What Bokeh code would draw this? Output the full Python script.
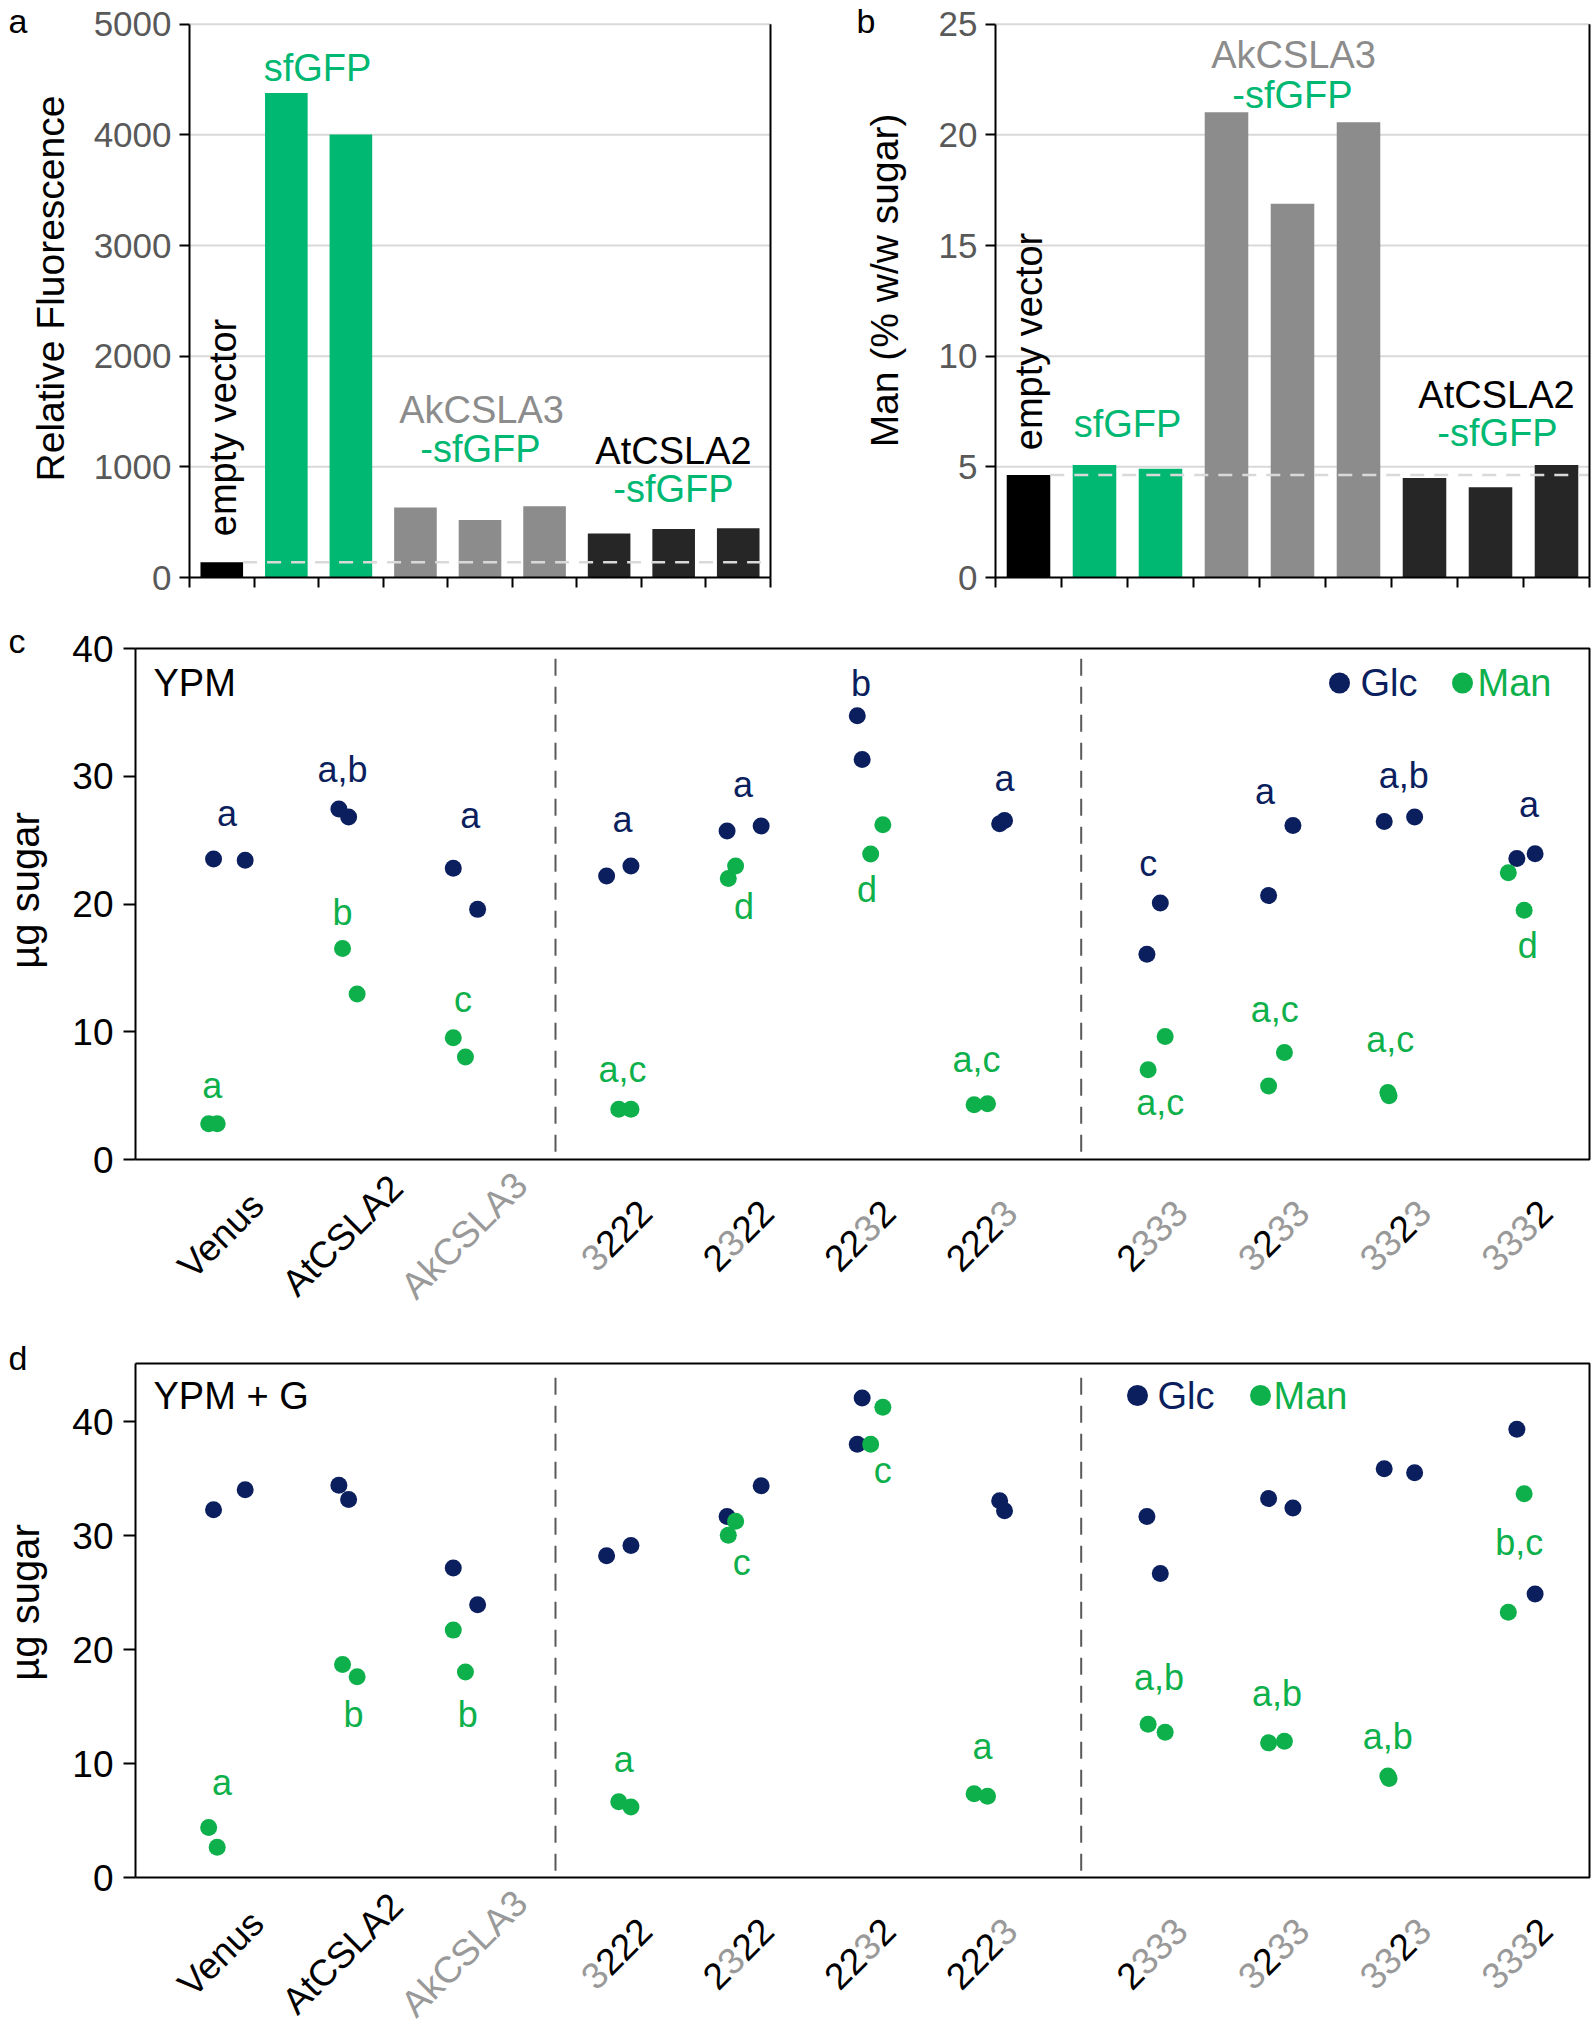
import math
from bokeh.plotting import figure
from bokeh.layouts import column, row
from bokeh.models import FixedTicker, Range1d
from bokeh.core.properties import value
from bokeh.embed import file_html
from bokeh.resources import INLINE

FONT = "Liberation Sans"
GREEN_BAR = "#00B872"
GREEN_DOT = "#0DB04B"
NAVY = "#0B1F5E"
GREY_BAR = "#8C8C8C"
LABEL_GREY = "#999999"
DARK_BAR = "#262626"
TICK_GREY = "#595959"
MID = 0.358  # cap-centre above baseline, in em

# ---------------- data: panels a / b ----------------
constructs = ["empty vector", "sfGFP", "sfGFP",
              "AkCSLA3-sfGFP", "AkCSLA3-sfGFP", "AkCSLA3-sfGFP",
              "AtCSLA2-sfGFP", "AtCSLA2-sfGFP", "AtCSLA2-sfGFP"]
fluorescence = [138, 4378, 4004, 633, 519, 643, 398, 439, 446]
man_percent = [4.63, 5.08, 4.91, 21.02, 16.89, 20.57, 4.50, 4.08, 5.08]
fluor_ticks = [0, 1000, 2000, 3000, 4000, 5000]
man_pct_ticks = [0, 5, 10, 15, 20, 25]

# ---------------- data: panels c / d ----------------
categories = ["Venus", "AtCSLA2", "AkCSLA3", "3222", "2322", "2232", "2223",
              "2333", "3233", "3323", "3332"]
cat_group = [0, 0, 0, 1, 1, 1, 1, 2, 2, 2, 2]
group_shift = [0.0, 0.25, 0.65]
separators = [3.72, 8.04]
sugar_ticks = [0, 10, 20, 30, 40]

glc_jit_1 = [-0.09, -0.06, -0.12, -0.11, -0.12, -0.05, 0.12, -0.07, -0.07, -0.12, -0.03]
glc_jit_2 = [0.17, 0.02, 0.08, 0.09, 0.16, -0.01, 0.16, 0.04, 0.13, 0.13, 0.12]
man_jit_1 = [-0.13, -0.03, -0.12, -0.01, -0.11, 0.16, -0.09, 0.08, -0.07, -0.09, -0.10]
man_jit_2 = [-0.06, 0.09, -0.02, 0.09, -0.05, 0.06, 0.02, -0.06, 0.06, -0.08, 0.03]

# panel c (YPM)
glc_c_1 = [23.53, 27.43, 22.79, 22.20, 25.72, 34.73, 26.28, 16.06, 20.66, 26.46, 23.56]
glc_c_2 = [23.42, 26.81, 19.58, 22.97, 26.11, 31.31, 26.53, 20.07, 26.14, 26.81, 23.94]
man_c_1 = [2.79, 16.51, 9.53, 3.94, 21.99, 26.21, 4.29, 9.63, 5.76, 5.24, 22.44]
man_c_2 = [2.79, 12.95, 8.03, 3.94, 22.97, 23.91, 4.36, 7.02, 8.38, 4.99, 19.51]
glc_c_letters = ["a", "a,b", "a", "a", "a", "b", "a", "c", "a", "a,b", "a"]
glc_c_letter_y = [26.1, 29.53, 25.93, 25.58, 28.38, 36.23, 28.8, 22.2, 27.78, 29.07, 26.81]
glc_c_letter_dx = [0.02, -0.03, 0.02, 0.02, 0.01, -0.02, 0.16, -0.06, -0.10, 0.04, 0.07]
man_c_letters = ["a", "b", "c", "a,c", "d", "d", "a,c", "a,c", "a,c", "a,c", "d"]
man_c_letter_y = [4.82, 18.36, 11.52, 6.04, 18.78, 20.1, 6.84, 3.49, 10.75, 8.38, 15.71]
man_c_letter_dx = [-0.10, -0.03, -0.04, 0.02, 0.02, 0.03, -0.07, 0.04, -0.02, -0.07, 0.06]

# panel d (YPM + G)
glc_d_1 = [32.26, 34.41, 27.14, 28.23, 31.67, 38.01, 33.04, 31.67, 33.24, 35.86, 39.33]
glc_d_2 = [34.02, 33.16, 23.93, 29.13, 34.37, 42.07, 32.18, 26.67, 32.41, 35.50, 24.87]
man_d_1 = [4.38, 18.69, 21.70, 6.65, 30.03, 41.25, 7.35, 12.75, 11.81, 8.91, 23.27]
man_d_2 = [2.66, 17.60, 18.03, 6.18, 31.24, 38.01, 7.12, 13.45, 11.96, 8.68, 33.67]
man_d_letters = ["a", "b", "b", "a", "c", "c", "a", "a,b", "a,b", "a,b", "b,c"]
man_d_letter_y = [7.16, 13.2, 13.2, 9.19, 26.5, 34.6, 10.4, 16.42, 14.98, 11.26, 28.27]
man_d_letter_dx = [-0.02, 0.06, 0.0, 0.03, 0.0, 0.16, -0.02, 0.03, 0.0, -0.09, -0.01]

# ---------------- helpers ----------------
CHAR_W = {"0": .556, "1": .556, "2": .556, "3": .556, "V": .667, "e": .556,
          "n": .556, "u": .556, "s": .5, "A": .667, "t": .278, "C": .722,
          "S": .667, "L": .556, "k": .5}


class Geo:
    """Maps canvas pixels to data units; the frame fills the whole canvas."""

    def __init__(self, W, H, L, R, T, B, x0, x1, y0, y1):
        self.W, self.H = W, H
        self.sx = (R - L) / (x1 - x0)
        self.sy = (B - T) / (y1 - y0)
        self.xs = x0 - L / self.sx
        self.xe = x1 + (W - R) / self.sx
        self.ye = y1 + T / self.sy
        self.ys = y0 - (H - B) / self.sy

    def fx(self, px):
        return self.xs + px / self.sx

    def fy(self, py):
        return self.ye - py / self.sy


def make_fig(g):
    p = figure(width=g.W, height=g.H, x_range=Range1d(g.xs, g.xe),
               y_range=Range1d(g.ys, g.ye), output_backend="svg",
               toolbar_location=None, min_border_left=0, min_border_right=0,
               min_border_top=0, min_border_bottom=0)
    p.outline_line_color = None
    p.xgrid.visible = False
    p.ygrid.visible = False
    return p


def txt(p, x, y, text, color="black", size=38, align="center", angle=0.0):
    p.text(x=[x], y=[y], text=[text], text_color=color, text_font=value(FONT),
           text_font_size=value(f"{size}px"), text_align=align,
           text_baseline="middle", angle=angle)


def style_yaxis(ax, tick_out, standoff, color, size, ticks, bounds, loc):
    ax.fixed_location = loc
    ax.bounds = bounds
    ax.ticker = FixedTicker(ticks=ticks)
    ax.axis_line_width = 2
    ax.axis_line_color = "black"
    ax.major_tick_line_width = 2
    ax.major_tick_line_color = "black"
    ax.major_tick_in = 0
    ax.major_tick_out = tick_out
    ax.minor_tick_line_color = None
    ax.major_label_text_font = FONT
    ax.major_label_text_font_size = f"{size}px"
    ax.major_label_text_color = color
    ax.major_label_standoff = standoff


construct_color = {"empty vector": "#000000", "sfGFP": GREEN_BAR,
                   "AkCSLA3-sfGFP": GREY_BAR, "AtCSLA2-sfGFP": DARK_BAR}


def bar_panel(g, values, ticks):
    p = make_fig(g)
    n = len(values)
    ymax = ticks[-1]
    p.segment(x0=[0.5] * (len(ticks) - 1), x1=[n + 0.5] * (len(ticks) - 1),
              y0=ticks[1:], y1=ticks[1:], line_color="#d9d9d9", line_width=2)
    xs = list(range(1, n + 1))
    p.vbar(x=xs, top=values, width=0.66, line_color=None,
           fill_color=[construct_color[c] for c in constructs])
    p.line(x=[1.33, n + 0.5], y=[values[0], values[0]], line_color="#d9d9d9",
           line_width=2.5, line_dash="14 10")
    p.line(x=[n + 0.5, n + 0.5], y=[0, ymax], line_color="black", line_width=2)
    style_yaxis(p.yaxis[0], 10, 8, TICK_GREY, 35, ticks, (0, ymax), 0.5)
    xa = p.xaxis[0]
    xa.fixed_location = 0
    xa.bounds = (0.5, n + 0.5)
    xa.ticker = FixedTicker(ticks=[], minor_ticks=[i + 0.5 for i in range(n + 1)])
    xa.axis_line_width = 2
    xa.axis_line_color = "black"
    xa.major_tick_line_color = None
    xa.minor_tick_line_color = "black"
    xa.minor_tick_line_width = 2
    xa.minor_tick_in = 0
    xa.minor_tick_out = 10
    return p


# ---- panel a ----
ga = Geo(850, 600, 189, 770, 23.7, 577, 0.5, 9.5, 0, 5000)
pa = bar_panel(ga, fluorescence, fluor_ticks)
txt(pa, ga.fx(8), ga.fy(20), "a", size=34, align="left")
txt(pa, ga.fx(64 - MID * 39), ga.fy(288), "Relative Fluorescence", size=39,
    angle=math.pi / 2)
txt(pa, ga.fx(317), ga.fy(67), "sfGFP", GREEN_BAR)
txt(pa, ga.fx(222), ga.fy(427), "empty vector", angle=math.pi / 2)
txt(pa, ga.fx(481), ga.fy(409), "AkCSLA3", GREY_BAR)
txt(pa, ga.fx(480), ga.fy(448), "-sfGFP", GREEN_BAR)
txt(pa, ga.fx(673), ga.fy(450), "AtCSLA2", "black")
txt(pa, ga.fx(673), ga.fy(488), "-sfGFP", GREEN_BAR)

# ---- panel b ----
gb = Geo(742, 600, 145, 739, 23.7, 577, 0.5, 9.5, 0, 25)
pb = bar_panel(gb, man_percent, man_pct_ticks)
txt(pb, gb.fx(6), gb.fy(20), "b", size=34, align="left")
txt(pb, gb.fx(48 - MID * 39), gb.fy(280), "Man (% w/w sugar)", size=39,
    angle=math.pi / 2)
txt(pb, gb.fx(178), gb.fy(341), "empty vector", angle=math.pi / 2)
txt(pb, gb.fx(277), gb.fy(423), "sfGFP", GREEN_BAR)
txt(pb, gb.fx(443), gb.fy(54), "AkCSLA3", GREY_BAR)
txt(pb, gb.fx(442), gb.fy(94), "-sfGFP", GREEN_BAR)
txt(pb, gb.fx(646), gb.fy(394), "AtCSLA2", "black")
txt(pb, gb.fx(647), gb.fy(432), "-sfGFP", GREEN_BAR)

cat_pos = [i + 1 + group_shift[g] for i, g in enumerate(cat_group)]


def char_color(label, ch):
    if label == "AkCSLA3":
        return LABEL_GREY
    if label in ("Venus", "AtCSLA2"):
        return "black"
    return LABEL_GREY if ch == "3" else "black"


def letters(p, g, texts, ys, dxs, color, size=36):
    # letters are read as baselines; text is anchored at its middle
    lift = MID * size / g.sy
    p.text(x=[c + d for c, d in zip(cat_pos, dxs)], y=[y + lift for y in ys],
           text=texts, text_color=color, text_font=value(FONT),
           text_font_size=value(f"{size}px"), text_align="center",
           text_baseline="middle")


def sugar_panel(g, top_val, glc1, glc2, man1, man2, panel_letter, letter_base,
                medium, legend_px, legend_py, title_py, drop):
    p = make_fig(g)
    p.xaxis.visible = False
    xl, xr = g.fx(135), g.fx(1589)
    style_yaxis(p.yaxis[0], 12, 10, "black", 37, sugar_ticks, (0, top_val), xl)
    p.line(x=[xl, xr, xr, xl], y=[top_val, top_val, 0, 0], line_color="black",
           line_width=2)
    p.segment(x0=separators, x1=separators, y0=[0.6] * 2, y1=[top_val - 0.7] * 2,
              line_color="#595959", line_width=2, line_dash="17 11")

    for jit, vals, col in ((glc_jit_1, glc1, NAVY), (glc_jit_2, glc2, NAVY),
                           (man_jit_1, man1, GREEN_DOT), (man_jit_2, man2, GREEN_DOT)):
        p.scatter(x=[c + j for c, j in zip(cat_pos, jit)], y=vals, size=17,
                  fill_color=col, line_color=None)

    ly = g.fy(legend_py)
    p.scatter(x=[g.fx(legend_px[0]), g.fx(legend_px[2])], y=[ly, ly], size=21,
              fill_color=[NAVY, GREEN_DOT], line_color=None)
    txt(p, g.fx(legend_px[1]), ly, "Glc", NAVY, size=38, align="left")
    txt(p, g.fx(legend_px[3]), ly, "Man", GREEN_DOT, size=38, align="left")

    txt(p, g.fx(153), ly, medium, "black", size=38, align="left")
    txt(p, g.fx(24), g.fy(title_py), "µg sugar", size=40, angle=math.pi / 2)
    txt(p, g.fx(8), g.fy(letter_base - MID * 34), panel_letter, size=34, align="left")

    # rotated, partly coloured category labels
    fs = 37
    c45 = math.cos(math.pi / 4)
    xs, ys, ts, cs = [], [], [], []
    for cat, xp in zip(categories, cat_pos):
        widths = [CHAR_W[ch] * fs for ch in cat]
        W = sum(widths)
        runs = []
        start = 0.0
        for ch, wch in zip(cat, widths):
            col = char_color(cat, ch)
            if runs and runs[-1][2] == col:
                runs[-1][0] += ch
                runs[-1][1] += wch
            else:
                runs.append([ch, wch, col, start])
            start += wch
        for text, wr, col, st in runs:
            s = st + wr / 2 - W / 2
            xs.append(xp - 0.03 + s * c45 / g.sx)
            ys.append((-drop + s * c45) / g.sy)
            ts.append(text)
            cs.append(col)
    p.text(x=xs, y=ys, text=ts, text_color=cs, text_font=value(FONT),
           text_font_size=value(f"{fs}px"), text_align="center",
           text_baseline="middle", angle=math.pi / 4)
    return p


# ---- panel c ----
gc = Geo(1592, 730, 224, 1520, 48, 559, 1, 11.65, 0, 40)
pc = sugar_panel(gc, 40, glc_c_1, glc_c_2, man_c_1, man_c_2, "c", 53, "YPM",
                 [1339, 1360, 1462, 1477], 82.5, 290, 76)
letters(pc, gc, glc_c_letters, glc_c_letter_y, glc_c_letter_dx, NAVY)
letters(pc, gc, man_c_letters, man_c_letter_y, man_c_letter_dx, GREEN_DOT)

# ---- panel d ----
gd = Geo(1592, 696, 224, 1520, 91, 547, 1, 11.65, 0, 40)
pd = sugar_panel(gd, round(gd.fy(33), 2), glc_d_1, glc_d_2, man_d_1, man_d_2, "d", 40,
                 "YPM + G", [1137, 1157, 1260, 1273], 65, 272, 76)
letters(pd, gd, man_d_letters, man_d_letter_y, man_d_letter_dx, GREEN_DOT)

layout = column(row(pa, pb), pc, pd)
open("out.html", "w").write(file_html(layout, INLINE))
